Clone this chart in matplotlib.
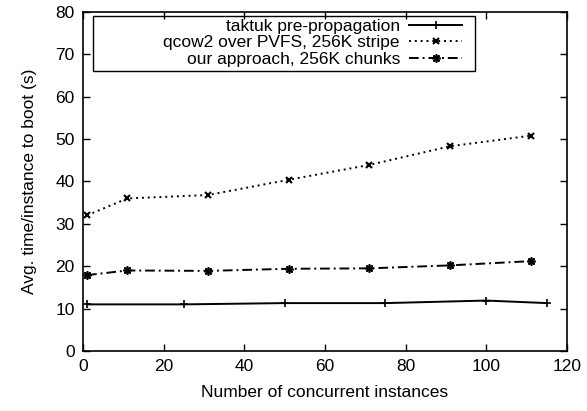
import matplotlib
matplotlib.use('Agg')
import matplotlib.pyplot as plt
from matplotlib.patches import Rectangle

plt.rcParams['font.family'] = ['Liberation Sans', 'DejaVu Sans']

# taktuk pre-propagation
taktuk_x = [1, 25, 50, 75, 100, 115]
taktuk_y = [11.0, 11.0, 11.3, 11.3, 11.9, 11.3]

# qcow2 over PVFS
qcow_x = [1, 11, 31, 51, 71, 91, 111]
qcow_y = [32.0, 36.0, 36.8, 40.4, 43.9, 48.3, 50.8]

# our approach
ours_x = [1, 11, 31, 51, 71, 91, 111]
ours_y = [17.9, 19.0, 18.9, 19.4, 19.5, 20.2, 21.2]

labels = ['taktuk pre-propagation', 'qcow2 over PVFS, 256K stripe', 'our approach, 256K chunks']

fs = 12.5

fig = plt.figure(figsize=(5.87, 4.11), dpi=100)
ax = fig.add_axes([0.1414, 0.146, 0.8245, 0.825])

ax.plot(taktuk_x, taktuk_y, color='black', lw=1.4, ls='-', marker='+', ms=6, mew=1.2, label=labels[0])
ax.plot(qcow_x, qcow_y, color='black', lw=1.4, ls=(0, (1, 2)), marker='x', ms=5, mew=1.5, label=labels[1])
ax.plot(ours_x, ours_y, color='black', lw=1.4, ls=(0, (5, 2, 1, 2)), marker=(8, 2, 0), ms=6, mew=1.2, label=labels[2])

ax.set_xlim(0, 120)
ax.set_ylim(0, 80)
ax.set_xticks(range(0, 121, 20))
ax.set_yticks(range(0, 81, 10))
ax.tick_params(direction='in', top=True, right=True, length=5, width=1, labelsize=fs, pad=6)
for s in ax.spines.values():
    s.set_linewidth(1.2)

ax.set_xlabel('Number of concurrent instances', fontsize=fs, labelpad=8)
ax.set_ylabel('Avg. time/instance to boot (s)', fontsize=fs, labelpad=13)

# legend, gnuplot style: text right-aligned, sample to the right
leg = ax.legend(loc='upper right', bbox_to_anchor=(0.793, 0.993), markerfirst=False,
                frameon=False, fontsize=fs, handlelength=3.1, handletextpad=0.5,
                labelspacing=0.08, borderaxespad=0, borderpad=0.25)
ax.add_patch(Rectangle((0.0207, 0.826), 0.789, 0.162, transform=ax.transAxes,
                       fill=False, edgecolor='black', lw=1.0, zorder=5))

fig.savefig('out.png', dpi=100)
